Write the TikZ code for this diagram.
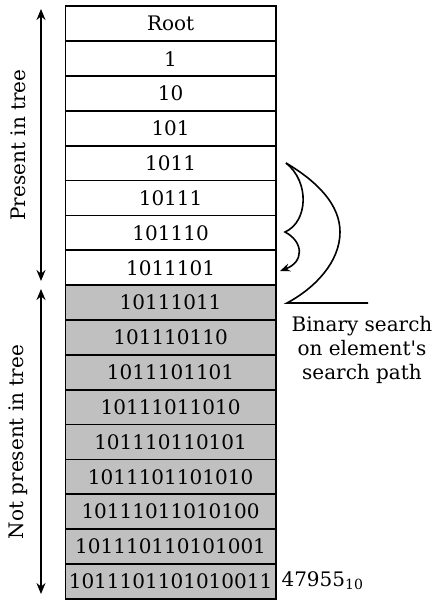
\documentclass[tikz,border=0pt]{standalone}
\usepackage{fontspec}
\setmainfont{DejaVu Serif}
\usetikzlibrary{arrows.meta}
\definecolor{cellgray}{RGB}{192,192,192}
% straight apostrophe, set as a glyph so the TeX quote mapping leaves it alone
\newcommand{\straightquote}{\XeTeXglyph\the\XeTeXcharglyph"0027\relax}
\tikzset{
  cell/.style={draw, line width=1.7pt, minimum width=210.5pt, minimum height=34.85pt,
    inner sep=0pt, font=\fontsize{20}{24}\selectfont, anchor=north west},
  absent/.style={cell, fill=cellgray},
  span/.style={line width=1.6pt, {Stealth[length=11pt,width=9pt]}-{Stealth[length=11pt,width=9pt]}},
  path/.style={line width=1.6pt},
  lbl/.style={font=\fontsize{20}{24}\selectfont}
}
\begin{document}
\begin{tikzpicture}[x=1pt,y=-1pt]
\useasboundingbox (0,0) rectangle (438,601);
% column of prefixes
\node[cell]   (r0)  at (64.5,  5.5)   {Root};
\node[cell]   (r1)  at (64.5,  40.35) {1};
\node[cell]   (r2)  at (64.5,  75.2)  {10};
\node[cell]   (r3)  at (64.5, 110.05) {101};
\node[cell]   (r4)  at (64.5, 144.9)  {1011};
\node[cell]   (r5)  at (64.5, 179.75) {10111};
\node[cell]   (r6)  at (64.5, 214.6)  {101110};
\node[cell]   (r7)  at (64.5, 249.45) {1011101};
\node[absent] (r8)  at (64.5, 284.3)  {10111011};
\node[absent] (r9)  at (64.5, 319.15) {101110110};
\node[absent] (r10) at (64.5, 354.0)  {1011101101};
\node[absent] (r11) at (64.5, 388.85) {10111011010};
\node[absent] (r12) at (64.5, 423.7)  {101110110101};
\node[absent] (r13) at (64.5, 458.55) {1011101101010};
\node[absent] (r14) at (64.5, 493.4)  {10111011010100};
\node[absent] (r15) at (64.5, 528.25) {101110110101001};
\node[absent] (r16) at (64.5, 563.1)  {1011101101010011};
% decimal value of the full key
\node[lbl, anchor=west] (dec) at (278, 581) {47955\textsubscript{10}};
% extents on the left
\coordinate (pTop) at (41, 9);
\coordinate (pBot) at (41, 281);
\coordinate (nTop) at (41, 289);
\coordinate (nBot) at (41, 594);
\draw[span] (pBot) -- (pTop);
\draw[span] (nTop) -- (nBot);
\node[lbl, rotate=90] (pres) at (18, 145) {Present in tree};
\node[lbl, rotate=90] (notp) at (18, 442) {Not present in tree};
% binary search sketch
\coordinate (s) at (286, 163);
\coordinate (m) at (340, 232);
\coordinate (e) at (287, 303);
\coordinate (f) at (368, 303);
\coordinate (c) at (285, 232);
\coordinate (t) at (280, 271);
\draw[path] (s) .. controls (318,182) and (340,205) .. (m)
            .. controls (340,262) and (315,288) .. (e) -- (f);
\draw[path, -{Stealth[length=10pt,width=8pt]}] (s) .. controls (310,182) and (308,222) .. (c)
            .. controls (304,242) and (304,262) .. (t);
\node[lbl, align=center, anchor=north] (bs) at (362, 313)
  {\fontsize{20}{26}\selectfont Binary search\\on element\straightquote s\\search path};
\end{tikzpicture}
\end{document}
